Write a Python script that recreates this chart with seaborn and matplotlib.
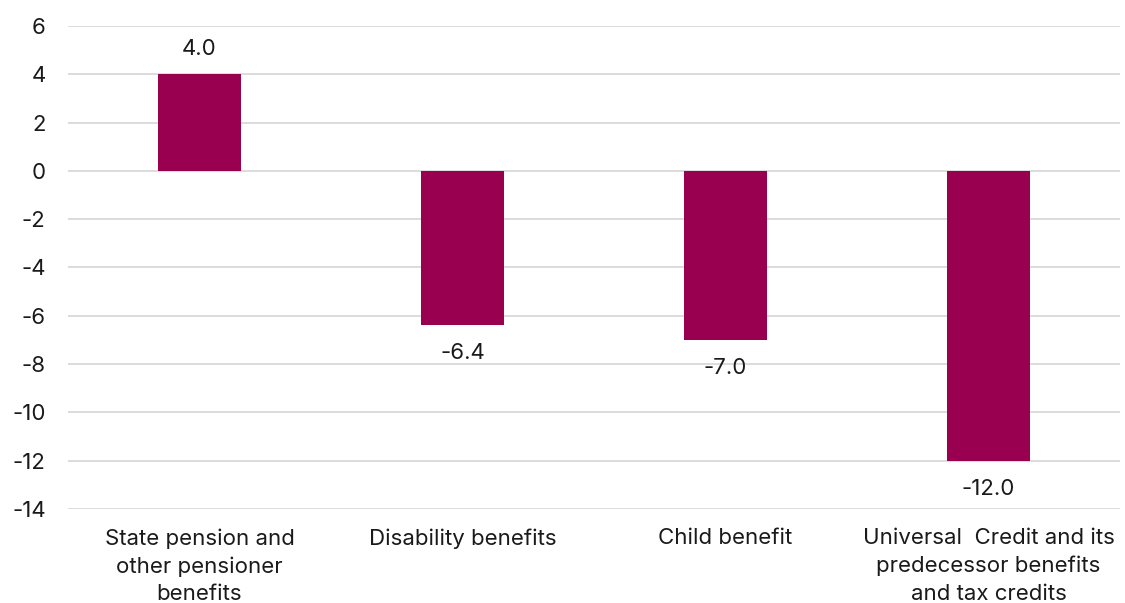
import matplotlib
matplotlib.use("Agg")
import matplotlib.pyplot as plt
import seaborn as sns
import pandas as pd

categories = [
    "State pension and\nother pensioner\nbenefits",
    "Disability benefits",
    "Child benefit",
    "Universal  Credit and its\npredecessor benefits\nand tax credits",
]
values = [4.0, -6.4, -7.0, -12.0]

sns.set_theme(style="white")
plt.rcParams["font.family"] = ["Inter", "DejaVu Sans"]
plt.rcParams["axes.unicode_minus"] = False

df = pd.DataFrame({"cat": categories, "val": values})

fig = plt.figure(figsize=(11.25, 6.03), dpi=100)
ax = fig.add_axes([0.0604, 0.156, 0.9352, 0.801])

sns.barplot(data=df, x="cat", y="val", color="#990050", width=0.316,
            saturation=1, linewidth=0, ax=ax, zorder=3)

ax.set_ylim(-14, 6)
ax.set_yticks(range(-14, 7, 2))
ax.yaxis.grid(True, color="#d9d9d9", linewidth=1.3, zorder=0)
ax.set_axisbelow(True)
for s in ax.spines.values():
    s.set_visible(False)
ax.set_xlabel("")
ax.set_ylabel("")
ax.tick_params(axis="both", length=0, labelsize=16, colors="#1a1a1a")
ax.tick_params(axis="y", pad=16)
ax.tick_params(axis="x", pad=14)
for lbl in ax.get_xticklabels():
    lbl.set_linespacing(1.45)

# data labels: above positive bars, below negative ones
for i, v in enumerate(values):
    if v >= 0:
        ax.annotate(f"{v:.1f}", (i, v), xytext=(0, 11), textcoords="offset points",
                    ha="center", va="bottom", fontsize=16, color="#1a1a1a")
    else:
        ax.annotate(f"{v:.1f}", (i, v), xytext=(0, -13), textcoords="offset points",
                    ha="center", va="top", fontsize=16, color="#1a1a1a")

fig.savefig("out.png", dpi=100)
